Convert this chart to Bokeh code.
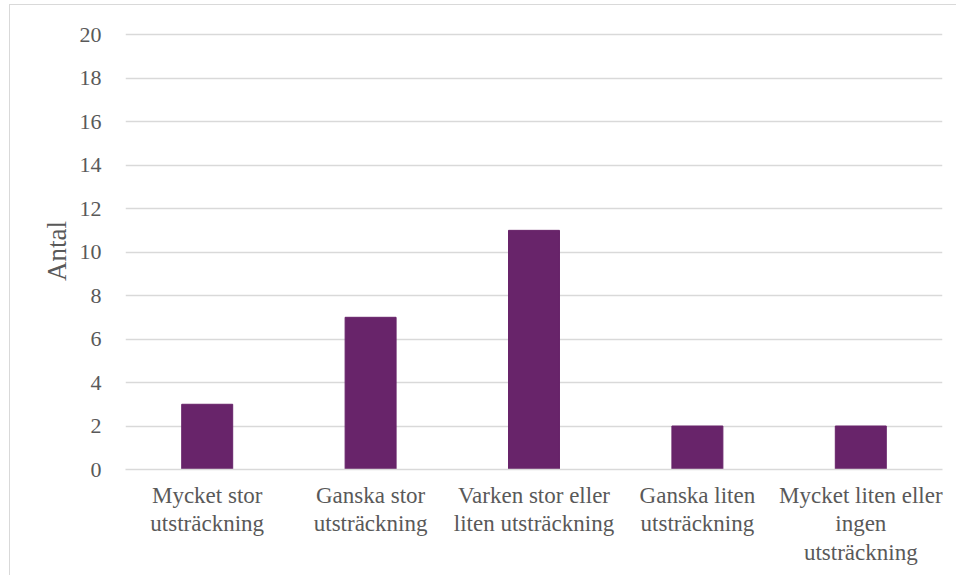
from bokeh.plotting import figure
from bokeh.models import Range1d, FactorRange, SingleIntervalTicker
from bokeh.embed import file_html
from bokeh.resources import INLINE

categories = ["Mycket stor\nutsträckning", "Ganska stor\nutsträckning",
              "Varken stor eller\nliten utsträckning", "Ganska liten\nutsträckning",
              "Mycket liten eller\ningen\nutsträckning"]
values = [3, 7, 11, 2, 2]
y_label = "Antal"

FONT = "Liberation Serif"
TXT = "#595959"
GRID = "#d9d9d9"
BAR = "#68246A"

p = figure(width=947, height=571, x_range=FactorRange(*categories, range_padding=0),
           y_range=Range1d(0, 20.1), output_backend="svg", toolbar_location=None,
           min_border_left=115, min_border_right=15, min_border_top=27, min_border_bottom=107)
p.styles = {"border-top": "1px solid #d9d9d9", "border-left": "1px solid #d9d9d9",
            "margin-left": "9px", "margin-top": "4px"}
p.vbar(x=categories, top=values, width=0.312, color=BAR)

p.outline_line_color = None
p.xgrid.grid_line_color = None
p.ygrid.grid_line_color = GRID
p.ygrid.grid_line_width = 1.5
p.yaxis.ticker = SingleIntervalTicker(interval=2)
p.yaxis.axis_line_color = None
p.yaxis.major_tick_line_color = None
p.yaxis.minor_tick_line_color = None
p.yaxis.major_label_standoff = 18
p.yaxis.axis_label = y_label
p.yaxis.axis_label_standoff = 5
p.yaxis.axis_label_text_font_style = "normal"
for ax in (p.xaxis, p.yaxis):
    ax.major_label_text_font = FONT
    ax.major_label_text_color = TXT
    ax.axis_label_text_font = FONT
    ax.axis_label_text_font_size = "27px"
    ax.axis_label_text_color = TXT
p.yaxis.major_label_text_font_size = "22px"
p.xaxis.major_label_text_font_size = "23px"
p.xaxis.major_label_text_line_height = 1.15
p.xaxis.axis_line_color = GRID
p.xaxis.axis_line_width = 1.5
p.xaxis.major_tick_line_color = None
p.xaxis.minor_tick_line_color = None
p.xaxis.major_label_standoff = 7

open("out.html", "w").write(file_html(p, INLINE))
